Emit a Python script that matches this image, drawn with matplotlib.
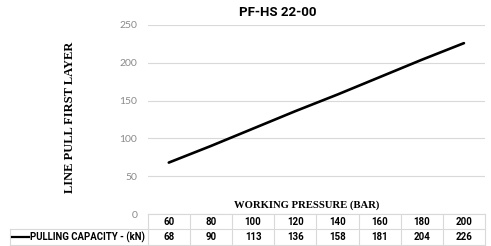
import matplotlib
matplotlib.use("Agg")
import matplotlib.pyplot as plt
from matplotlib.lines import Line2D
import matplotlib.transforms as mtransforms

# Data
pressures = [60, 80, 100, 120, 140, 160, 180, 200]
capacity = [68, 90, 113, 136, 158, 181, 204, 226]
title = "PF-HS 22-00"
series_name = "PULLING CAPACITY - (kN)"
ylabel = "LINE PULL FIRST LAYER"
xlabel = "WORKING PRESSURE (BAR)"
yticks = [0, 50, 100, 150, 200, 250]

W, H = 491, 246
fig = plt.figure(figsize=(W / 100, H / 100), dpi=100)

left_px, right_px, top_px, bot_px = 147.7, 485.0, 25.0, 214.0
ax = fig.add_axes([left_px / W, 1 - bot_px / H, (right_px - left_px) / W, (bot_px - top_px) / H])

x = list(range(len(pressures)))
ax.plot(x, capacity, color="black", lw=1.9, solid_capstyle="round")
ax.set_xlim(-0.5, len(pressures) - 0.5)
ax.set_ylim(0, 250)
ax.set_yticks(yticks)
ax.set_yticklabels([str(t) for t in yticks], fontsize=7.5, color="#8a8a8a", family="Lato")
ax.tick_params(axis="y", length=0, pad=7.5)
ax.set_xticks([])
ax.grid(axis="y", color="#d9d9d9", lw=0.8)
ax.set_axisbelow(True)
for s in ax.spines.values():
    s.set_visible(False)

bold_font = "Roboto"

# Title and axis labels
fig.text(278 / W, 1 - 12 / H, title, ha="center", va="center", fontsize=9.5,
         fontweight="bold", family=bold_font)
fig.text(70 / W, 1 - 117 / H, ylabel, ha="center", va="center", rotation=90,
         fontsize=9, fontweight="bold", family="Liberation Serif")
fig.text(306.5 / W, 1 - 205 / H, xlabel, ha="center", va="center",
         fontsize=7.7, fontweight="bold", family="Liberation Serif")

# Data table (x in data coords, y in figure pixel coords)
def fy(py):
    return 1 - py / H

trans = mtransforms.blended_transform_factory(ax.transData, fig.transFigure)
grid_c = "#d9d9d9"
row1_top, row_mid, row_bot = 214.0, 229.3, 245.0

for py in (row1_top, row_mid, row_bot):
    fig.add_artist(Line2D([left_px / W, right_px / W], [fy(py), fy(py)], color=grid_c, lw=0.8))
fig.add_artist(Line2D([10 / W, left_px / W], [fy(row_mid), fy(row_mid)], color=grid_c, lw=0.8))
fig.add_artist(Line2D([10 / W, left_px / W], [fy(row_bot), fy(row_bot)], color=grid_c, lw=0.8))
fig.add_artist(Line2D([10 / W, 10 / W], [fy(row_mid), fy(row_bot)], color=grid_c, lw=0.8))
for i in range(len(pressures) + 1):
    fig.add_artist(Line2D([i - 0.5, i - 0.5], [fy(row1_top), fy(row_bot)], color=grid_c,
                          lw=0.8, transform=trans))

for i, (p, c) in enumerate(zip(pressures, capacity)):
    fig.text(i, fy((row1_top + row_mid) / 2), str(p), transform=trans, ha="center",
             va="center", fontsize=7, fontweight="bold", family=bold_font)
    fig.text(i, fy((row_mid + row_bot) / 2), str(c), transform=trans, ha="center",
             va="center", fontsize=7, fontweight="bold", family=bold_font)

ymid = fy((row_mid + row_bot) / 2)
fig.add_artist(Line2D([12 / W, 29 / W], [ymid, ymid], color="black", lw=1.6))
fig.text(30 / W, ymid, series_name, ha="left", va="center", fontsize=6.9,
         fontweight="bold", family=bold_font)

fig.savefig("out.png", dpi=100)
